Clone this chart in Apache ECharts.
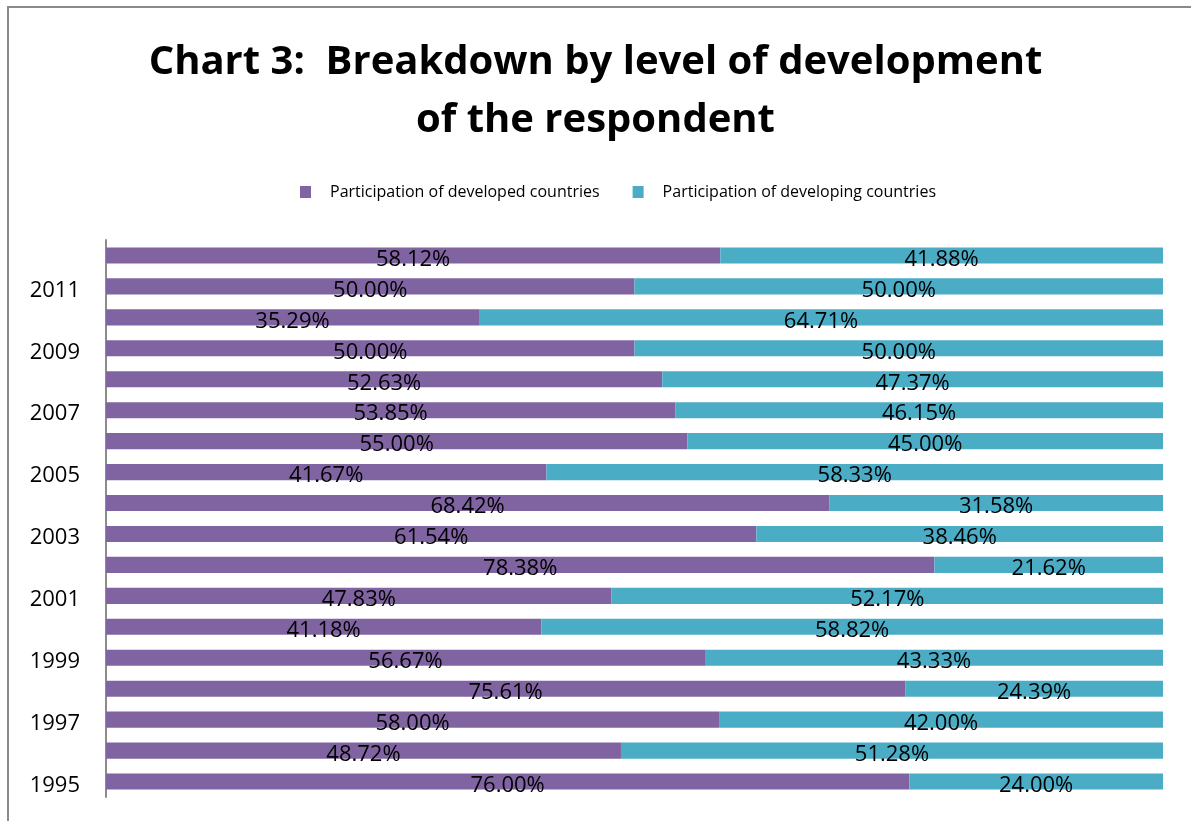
<!DOCTYPE html>
<html>
<head>
<meta charset="utf-8">
<title>Chart 3</title>
<script src="https://cdn.jsdelivr.net/npm/echarts@6/dist/echarts.min.js"></script>
<style>
  html, body { margin: 0; padding: 0; background: #fff; }
  #grafico { width: 1191px; height: 821px; }
</style>
</head>
<body>
<div id="grafico"></div>
<script>
// Anos (de baixo para cima)
const anos = ['1995', '1996', '1997', '1998', '1999', '2000', '2001', '2002', '2003',
              '2004', '2005', '2006', '2007', '2008', '2009', '2010', '2011', '2012'];

// Participação dos países desenvolvidos (%)
const desenvolvidos = [76.00, 48.72, 58.00, 75.61, 56.67, 41.18, 47.83, 78.38, 61.54,
                       68.42, 41.67, 55.00, 53.85, 52.63, 50.00, 35.29, 50.00, 58.12];

// Participação dos países em desenvolvimento (%)
const emDesenvolvimento = [24.00, 51.28, 42.00, 24.39, 43.33, 58.82, 52.17, 21.62, 38.46,
                           31.58, 58.33, 45.00, 46.15, 47.37, 50.00, 64.71, 50.00, 41.88];

const nomes = ['Participation of developed countries', 'Participation of developing countries'];
const cores = ['#8064A2', '#4BACC6'];

// Rótulo de dados comum às duas séries
const rotulo = {
    show: true,
    position: 'inside',
    offset: [0, 4],
    color: '#000',
    fontSize: 22,
    fontFamily: 'Open Sans',
    textBorderWidth: 0,
    formatter: p => p.value.toFixed(2) + '%'
};

const chart = echarts.init(document.getElementById('grafico'));
chart.setOption({
    animation: false,
    title: {
        text: 'Chart 3:  Breakdown by level of development\nof the respondent',
        left: 'center',
        top: 29,
        textStyle: {
            fontFamily: 'Open Sans',
            fontWeight: 'bold',
            fontSize: 40,
            lineHeight: 58,
            color: '#000'
        }
    },
    legend: {
        top: 179,
        left: 295,
        itemWidth: 11,
        itemHeight: 12,
        itemGap: 33,
        icon: 'rect',
        textStyle: {
            fontFamily: 'Open Sans',
            fontSize: 16,
            color: '#000',
            padding: [0, 0, 0, 14]
        },
        data: nomes
    },
    grid: {
        left: 106,
        right: 28,
        top: 240,
        bottom: 24,
        containLabel: false
    },
    xAxis: {
        type: 'value',
        min: 0,
        max: 100,
        show: false
    },
    yAxis: {
        type: 'category',
        data: anos,
        axisLine: { lineStyle: { color: '#8c8c8c', width: 2 } },
        axisTick: { show: false },
        axisLabel: {
            interval: 1,
            margin: 26,
            color: '#000',
            formatter: '{a|{value}}',
            rich: {
                a: {
                    fontSize: 22,
                    fontFamily: 'Open Sans',
                    color: '#000',
                    padding: [8, 0, 0, 0]
                }
            }
        }
    },
    graphic: [{
        type: 'rect',
        shape: { x: 8, y: 7, width: 1400, height: 1000 },
        style: { fill: 'none', stroke: '#8a8a8a', lineWidth: 2 },
        silent: true
    }],
    series: [
        {
            name: nomes[0],
            type: 'bar',
            stack: 'total',
            barCategoryGap: '48%',
            data: desenvolvidos,
            itemStyle: { color: cores[0] },
            label: rotulo
        },
        {
            name: nomes[1],
            type: 'bar',
            stack: 'total',
            barCategoryGap: '48%',
            data: emDesenvolvimento,
            itemStyle: { color: cores[1] },
            label: rotulo
        }
    ]
});
</script>
</body>
</html>
